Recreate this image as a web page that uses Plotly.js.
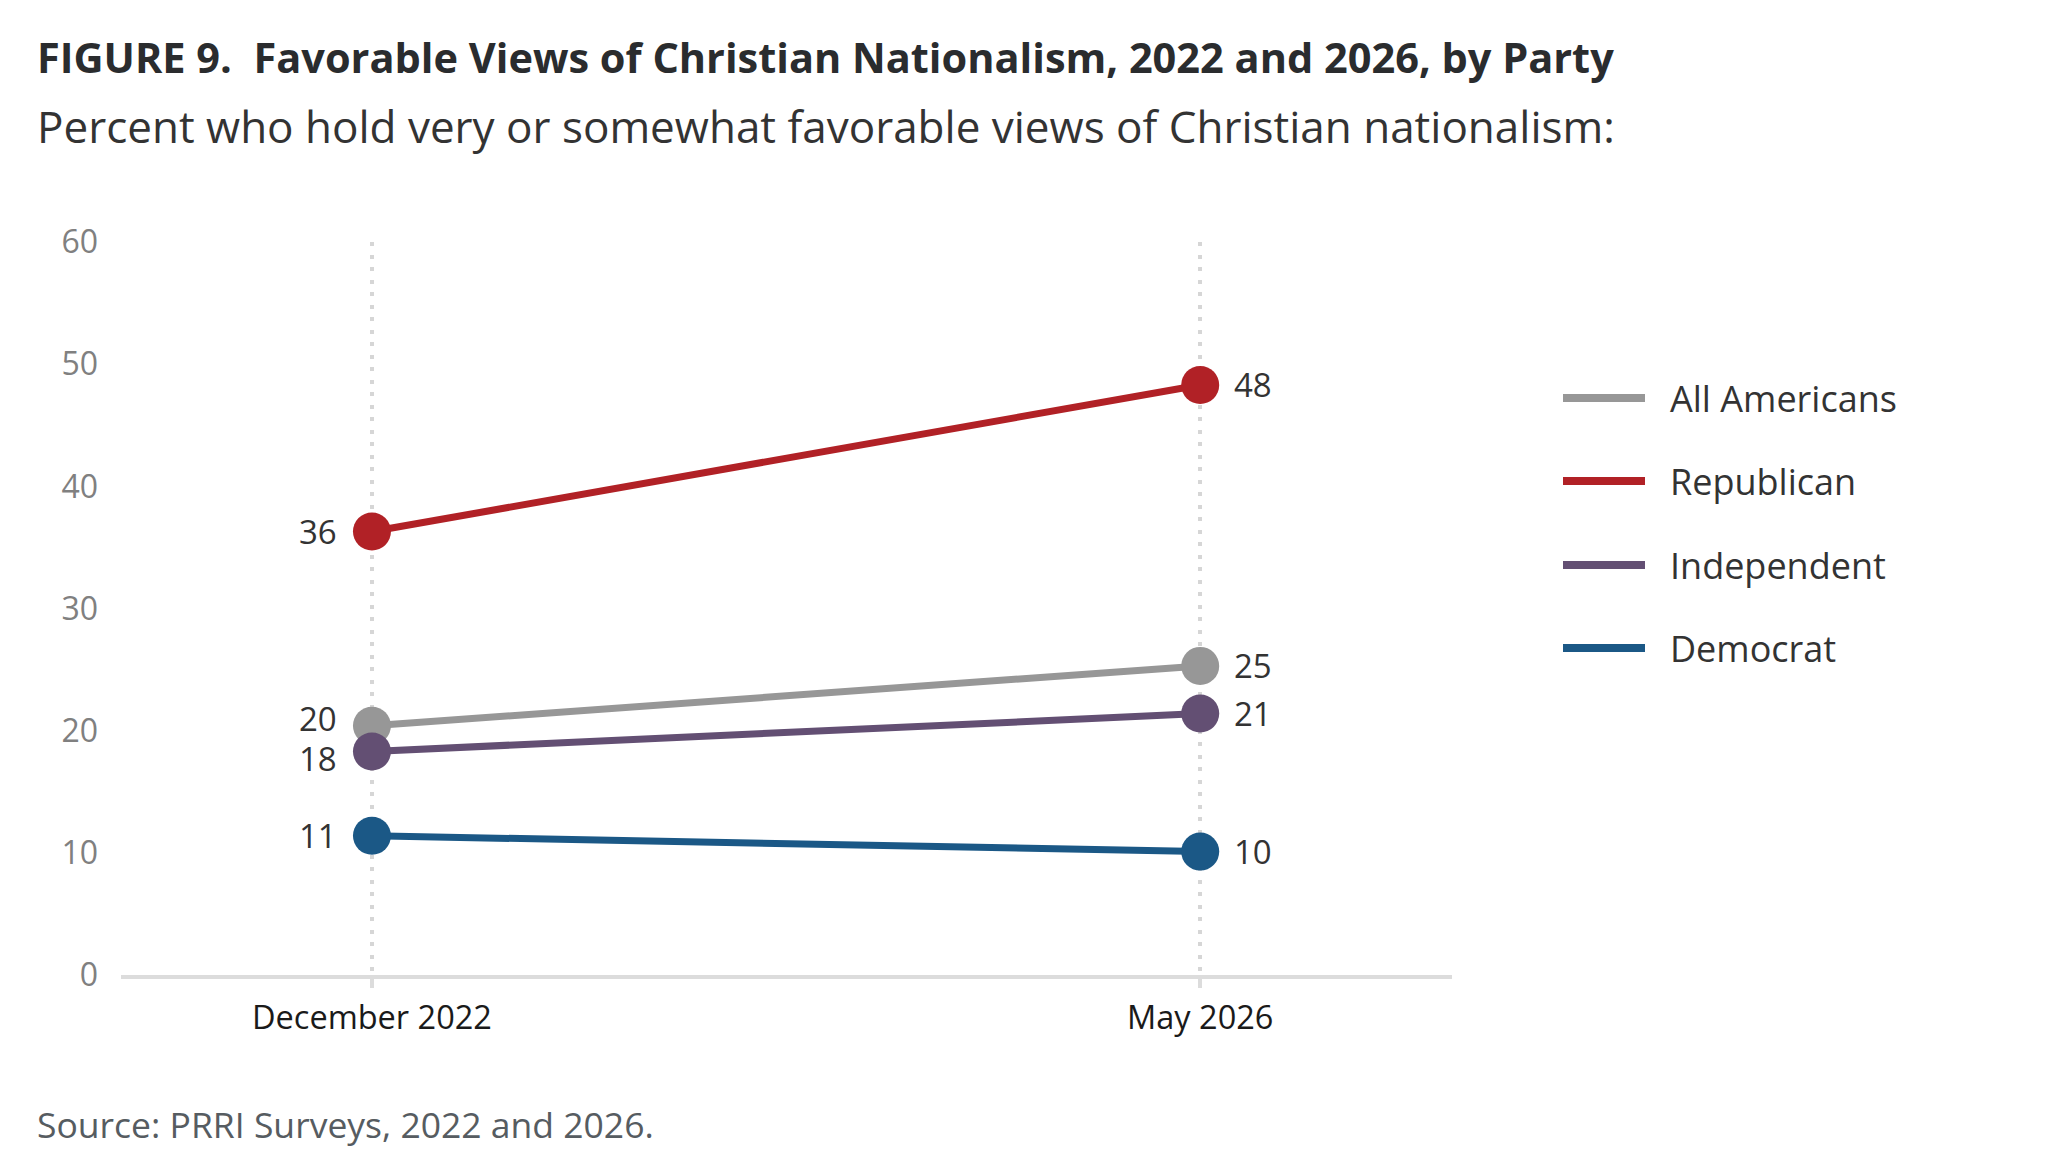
<!DOCTYPE html>
<html>
<head>
<meta charset="utf-8">
<script src="https://cdn.plot.ly/plotly-3.0.1.min.js"></script>
<style>
  html, body { margin: 0; padding: 0; background: #fff; }
  #chart { width: 2064px; height: 1175px; }
</style>
</head>
<body>
<div id="chart"></div>
<script>
// survey waves
var waves = ['December 2022', 'May 2026'];

// percent favorable
var allAmericans = [20.4, 25.3];
var republican = [36.3, 48.3];
var independent = [18.3, 21.4];
var democrat = [11.4, 10.1];

var seriesNames = ['All Americans', 'Republican', 'Independent', 'Democrat'];
var seriesValues = [allAmericans, republican, independent, democrat];
var seriesColors = ['#979797', '#b12126', '#634f73', '#1b5886'];

var yTicks = [0, 10, 20, 30, 40, 50, 60];

// page geometry
var W = 2064, H = 1175;
var M = { l: 121, r: 612, t: 242, b: 200 };
function px(x) { return (x - M.l) / (W - M.l - M.r); }
function py(y) { return (H - M.b - y) / (H - M.t - M.b); }

var font = 'Open Sans, Noto Sans, sans-serif';

var traces = seriesNames.map(function (name, k) {
  return {
    type: 'scatter',
    mode: 'lines+markers',
    name: name,
    x: waves,
    y: seriesValues[k],
    line: { color: seriesColors[k], width: 7 },
    marker: { color: seriesColors[k], size: 38 },
    hoverinfo: 'skip'
  };
});

// small vertical nudges so the 20 / 18 labels don't collide
var labelNudge = { 'All Americans': [7, 0], 'Independent': [-7, 0] };

var annotations = [];
seriesNames.forEach(function (name, k) {
  seriesValues[k].forEach(function (v, i) {
    var nudge = labelNudge[name] ? labelNudge[name][i] : 0;
    annotations.push({
      xref: 'x', yref: 'y',
      x: waves[i], y: v,
      text: String(Math.round(v)),
      showarrow: false,
      borderpad: 0,
      xanchor: i === 0 ? 'right' : 'left',
      xshift: i === 0 ? -34 : 33,
      yshift: nudge,
      font: { family: font, size: 33, color: '#333333' }
    });
  });
});

// legend, drawn by hand so the swatches are long like the original
var shapes = [];
var legendRows = [398, 481, 565, 648];
seriesNames.forEach(function (name, k) {
  shapes.push({
    type: 'line', xref: 'paper', yref: 'paper',
    x0: px(1563), x1: px(1645), y0: py(legendRows[k]), y1: py(legendRows[k]),
    line: { color: seriesColors[k], width: 8 }
  });
  annotations.push({
    xref: 'paper', yref: 'paper',
    x: px(1668), y: py(legendRows[k]),
    xanchor: 'left', yanchor: 'middle',
    text: name, showarrow: false,
    font: { family: font, size: 36, color: '#333333' }
  });
});

annotations.push({
  xref: 'paper', yref: 'paper',
  x: px(35), y: py(126), xanchor: 'left', yanchor: 'middle',
  text: 'Percent who hold very or somewhat favorable views of Christian nationalism:',
  showarrow: false,
  font: { family: font, size: 44, color: '#333333' }
});
annotations.push({
  xref: 'paper', yref: 'paper',
  x: px(35), y: py(1124), xanchor: 'left', yanchor: 'middle',
  text: 'Source: PRRI Surveys, 2022 and 2026.',
  showarrow: false,
  font: { family: font, size: 35.5, color: '#565c61' }
});

var layout = {
  width: W, height: H,
  margin: M,
  paper_bgcolor: '#ffffff',
  plot_bgcolor: '#ffffff',
  showlegend: false,
  title: {
    text: '<b>FIGURE 9.  Favorable Views of Christian Nationalism, 2022 and 2026, by Party</b>',
    x: 37 / W, xref: 'container', xanchor: 'left',
    y: 1 - 58 / H, yref: 'container', yanchor: 'middle',
    font: { family: font, size: 41.5, color: '#2a2c2e' }
  },
  xaxis: {
    type: 'category',
    range: [-0.303, 1.304],
    showgrid: true,
    gridcolor: '#d6d6d6',
    gridwidth: 4,
    griddash: '4px,8.5px',
    showline: true,
    linecolor: '#dcdcdc',
    linewidth: 4,
    ticks: 'outside',
    ticklen: 9,
    tickwidth: 4,
    tickcolor: '#dcdcdc',
    ticklabelstandoff: 2,
    zeroline: false,
    tickfont: { family: font, size: 32.5, color: '#1a1a1a' },
    fixedrange: true
  },
  yaxis: {
    range: [0, 60],
    tickvals: yTicks,
    showgrid: false,
    zeroline: false,
    showline: false,
    ticks: '',
    ticklabelstandoff: 22,
    tickfont: { family: font, size: 32, color: '#808080' },
    fixedrange: true
  },
  shapes: shapes,
  annotations: annotations
};

Plotly.newPlot('chart', traces, layout, { displayModeBar: false, staticPlot: true });
</script>
</body>
</html>
